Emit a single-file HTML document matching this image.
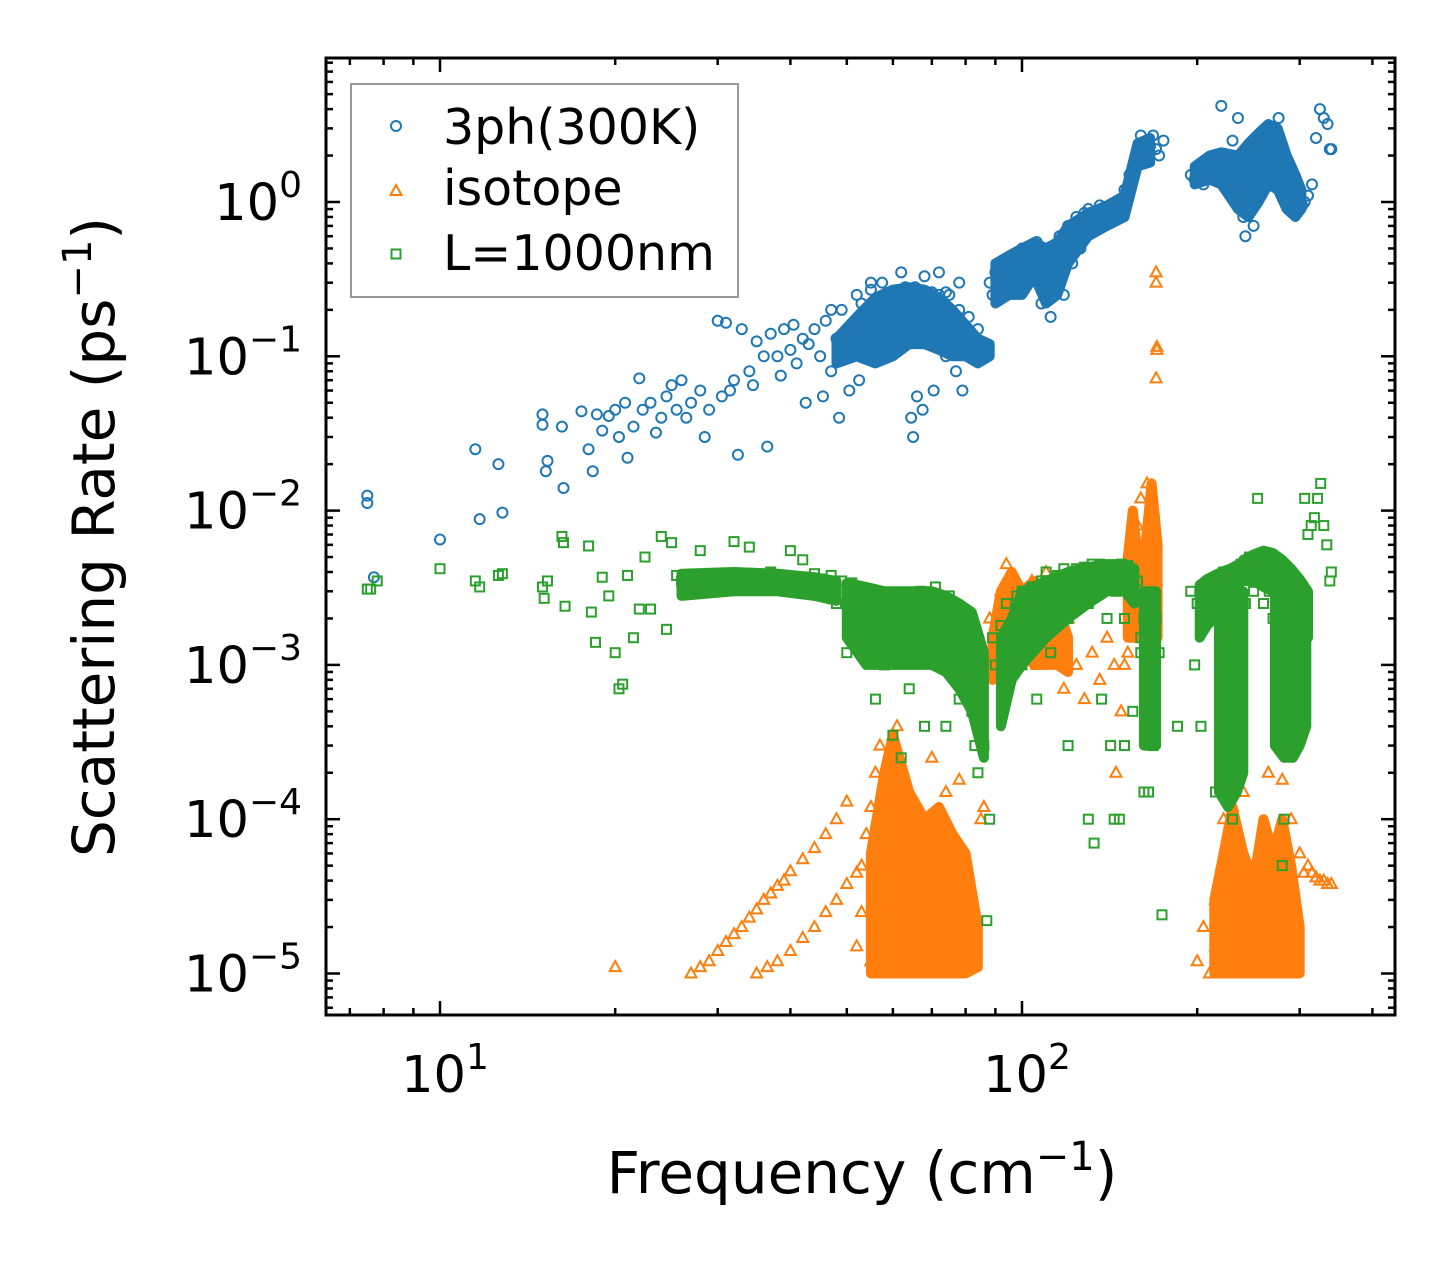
<!DOCTYPE html>
<html><head><meta charset="utf-8"><style>
html,body{margin:0;padding:0;background:#fff;}
svg{display:block;font-family:"DejaVu Sans","Liberation Sans",sans-serif;}
</style></head><body>
<svg id="chart" width="1455" height="1265" viewBox="0 0 1455 1265" xmlns="http://www.w3.org/2000/svg">
<rect width="1455" height="1265" fill="#fff"/>
<g id="marks"></g>
<g id="axes"></g>
</svg>
<script>
// ---- data: 3-phonon (300K) scattering ----
const threePhFreq = [
7.5,7.5,7.7,10,11.5,11.7,12.6,12.8,15,15,
15.2,15.3,16.2,16.3,17.5,18,18.3,18.6,19,19.5,
20,20.3,20.8,21,21.5,22,22.3,23,23.5,24,
24.5,25,25.5,26,26.5,27,28,28.5,29,30,
30.5,31,31.5,32,32.5,33,34,34.5,35,36,
36.5,37,38,38.5,39,40,40.5,41,42,42.5,
43,44,45,45.5,46,47,48,48.5,49,50,
50.5,51,52,52.5,53,54,55,55.5,56,57,
57.5,58,59,59.5,60,61,62,62.5,63,64,
64.5,65,65.5,66,67,67.5,68,69,70,70.5,
71,72,73,74,75,76,77,78,79,80,
81,82,83,84,85,60,62,65,68,72,
88,89,90,92,94,96,98,100,102,104,
106,108,110,112,114,116,118,120,122,124,
126,128,130,133,136,140,143,146,150,153,
156,158,160,162,164,166,168,170,172,175,
195,198,200,205,210,215,220,225,230,235,
238,240,242,245,248,250,253,256,260,263,
266,270,273,276,280,283,286,290,295,300,
303,306,310,315,320,325,330,335,338,340,
47,53,58,63,66,69,74,78,55,60];
const threePhRate = [
0.0125,0.0112,0.0037,0.0065,0.025,0.0088,0.020,0.0097,0.042,0.036,
0.018,0.021,0.035,0.014,0.044,0.025,0.018,0.042,0.033,0.041,
0.045,0.030,0.050,0.022,0.035,0.072,0.045,0.050,0.032,0.040,
0.055,0.065,0.045,0.070,0.040,0.050,0.060,0.030,0.045,0.170,
0.055,0.165,0.060,0.070,0.023,0.150,0.080,0.065,0.125,0.100,
0.026,0.140,0.100,0.075,0.150,0.110,0.160,0.090,0.130,0.050,
0.120,0.150,0.100,0.055,0.170,0.080,0.130,0.040,0.200,0.150,
0.060,0.110,0.250,0.070,0.180,0.130,0.270,0.100,0.200,0.150,
0.300,0.220,0.170,0.120,0.260,0.200,0.350,0.150,0.250,0.190,
0.040,0.030,0.280,0.055,0.220,0.045,0.330,0.150,0.260,0.060,
0.200,0.350,0.170,0.100,0.250,0.150,0.080,0.200,0.060,0.130,
0.180,0.100,0.120,0.150,0.110,0.180,0.130,0.220,0.170,0.250,
0.300,0.250,0.350,0.400,0.280,0.450,0.350,0.500,0.300,0.400,
0.550,0.220,0.500,0.180,0.350,0.600,0.250,0.700,0.400,0.800,
0.500,0.850,0.900,0.700,0.950,0.850,0.900,1.000,1.200,1.500,
1.700,2.200,2.700,2.000,2.500,2.300,2.700,2.200,2.000,2.500,
1.500,1.400,1.600,1.300,1.700,2.000,4.200,1.500,2.500,3.500,
1.200,0.800,0.600,0.900,1.300,0.700,1.500,1.100,2.500,1.800,
2.800,3.000,1.500,3.500,2.200,1.200,1.800,1.300,1.000,1.200,
0.950,1.000,1.100,1.300,2.600,4.000,3.500,3.200,2.200,2.200,
0.200,0.220,0.180,0.280,0.240,0.200,0.260,0.300,0.300,0.140];
// dense overlap regions (envelopes of overlapping markers)
const threePhBandFreq = [[48,52,56,60,64,68,72,76,80,84,88],[90,95,100,105,110,115,120,130,140,150,158,166],[198,210,220,235,245,255,265,275,285,295,302]];
const threePhBandLow  = [[0.09,0.10,0.09,0.10,0.12,0.12,0.11,0.10,0.10,0.09,0.10],[0.22,0.25,0.25,0.33,0.22,0.25,0.40,0.60,0.70,0.80,1.70,1.8],[1.3,1.4,1.3,0.9,0.8,1.0,1.3,1.2,0.9,0.8,0.9]];
const threePhBandHigh = [[0.13,0.18,0.24,0.27,0.28,0.27,0.24,0.20,0.16,0.13,0.12],[0.40,0.45,0.50,0.55,0.50,0.55,0.70,0.85,0.95,1.10,2.4,2.6],[1.7,2.0,2.1,2.0,2.4,2.8,3.2,3.0,2.0,1.5,1.2]];

// ---- data: isotope scattering ----
const isoFreq = [
20,27,28,29,30,31,32,33,34,35,
36,37,38,39,40,42,44,46,48,50,
35,36.5,38,40,42,44,46,48,50,52,
53,54,55,56,57,58,59,60,61,62,
52,53,55,56,58,59,60,62,63,64,
65,66,67,68,69,70,71,72,73,74,
75,76,77,78,79,80,66,70,74,78,
63,67,71,75,79,57,61,65,69,73,
85,86,88,90,92,94,96,98,100,102,
104,106,108,110,112,115,118,120,124,128,
132,136,140,144,148,152,155,158,160,162,
164,170,170,170.5,170.5,170,168,150,155,145,
200,205,210,215,220,225,230,235,240,245,
250,255,260,265,270,275,280,285,290,295,
300,305,310,315,320,325,330,335,340,230,
215,225,235,245,255,265,275,285,295,222];
const isoRate = [
1.1e-5,1.0e-5,1.1e-5,1.2e-5,1.4e-5,1.6e-5,1.8e-5,2.0e-5,2.3e-5,2.6e-5,
3e-5,3.3e-5,3.7e-5,4e-5,4.6e-5,5.5e-5,6.5e-5,8e-5,1.0e-4,1.3e-4,
1.0e-5,1.1e-5,1.2e-5,1.4e-5,1.7e-5,2e-5,2.5e-5,3e-5,3.8e-5,4.5e-5,
5e-5,8e-5,1.2e-4,2e-4,3e-4,1.5e-4,2.5e-4,3.5e-4,4e-4,2e-4,
1.5e-5,2.5e-5,1.2e-5,3.5e-5,1.0e-5,6e-5,1.8e-5,1.0e-4,1.3e-5,7e-5,
1.1e-5,3e-5,1.5e-5,5e-5,1.2e-5,8e-5,2e-5,4e-5,1.1e-5,1.5e-4,
2.5e-5,1e-5,6e-5,1.5e-5,3e-5,1.2e-5,1.2e-4,2.5e-4,7e-5,1.8e-4,
3e-5,2e-5,5e-5,2e-5,6e-5,2e-5,8e-5,1.6e-5,2.5e-5,3.5e-5,
1e-4,1.2e-4,2e-3,1.5e-3,3e-3,4.5e-3,2e-3,1.2e-3,3e-3,1.5e-3,
3.5e-3,1e-3,2.5e-3,4e-3,1.5e-3,3e-3,7e-4,2e-3,1e-3,6e-4,
1.2e-3,8e-4,1.5e-3,1e-3,5e-4,1.2e-3,3e-3,8e-3,1.2e-2,6e-3,
1.5e-2,0.35,0.30,0.11,0.115,0.072,1e-2,1e-3,2e-3,2e-4,
1.2e-5,2e-5,1e-5,1.5e-5,4e-5,1.2e-5,8e-5,2.5e-5,1.5e-4,3e-5,
1e-5,5e-5,1.5e-5,2e-4,1.1e-5,6e-5,1.8e-4,2e-5,1e-4,1.2e-5,
6e-5,4.5e-5,5e-5,4.5e-5,4.2e-5,4e-5,4e-5,3.8e-5,3.8e-5,1.2e-4,
3e-5,2e-5,5e-5,1.2e-5,2.5e-5,1.1e-5,3e-5,5e-5,2e-5,1e-4];
const isoBandFreq = [[55,58,60,64,68,72,76,80,84],[89,92,96,100,105,110,115,120],[152,155,158],[163,167,171],[214,222,230,240,250,260,270,280,290,300]];
const isoBandLow  = [[1e-5,1e-5,1e-5,1e-5,1e-5,1e-5,1e-5,1e-5,1.1e-5],[8e-4,1e-3,1e-3,1.2e-3,1e-3,1e-3,1e-3,9e-4],[1.5e-3,1.5e-3,1.5e-3],[1.5e-3,1.5e-3,1.5e-3],[1e-5,1e-5,1e-5,1e-5,1e-5,1e-5,1e-5,1e-5,1e-5,1e-5]];
const isoBandHigh = [[6e-5,2e-4,3.5e-4,1.5e-4,1e-4,1.2e-4,8e-5,6e-5,2e-5],[1.5e-3,3e-3,4e-3,3e-3,3.5e-3,3e-3,2.5e-3,1.5e-3],[5e-3,1e-2,5e-3],[6e-3,1.5e-2,6e-3],[3e-5,6e-5,1.2e-4,6e-5,4e-5,1e-4,6e-5,1e-4,5e-5,2e-5]];

// ---- data: boundary scattering L=1000nm ----
const bdyFreq = [
7.5,7.6,7.8,10,11.5,11.7,12.6,12.8,15,15.1,
15.3,16.2,16.3,16.4,18,18.2,18.5,19,19.5,20,
20.3,20.6,21,21.5,22,22.5,23,24,24.5,25,
25.5,26,27,28,29,30,31,32,33,34,
35,36,37,38,39,40,41,42,43,44,
45,46,47,48,49,50,51,52,53,54,
55,56,57,58,59,60,61,62,63,64,
65,66,67,68,69,70,71,72,73,74,
75,76,77,78,79,80,81,82,83,84,
55,58,61,64,67,70,73,76,79,62,
86,87,88,89,90,92,94,96,98,100,
102,104,106,108,110,112,115,118,120,124,
128,132,136,140,144,148,150,152,155,158,
160,162,164,166,168,170,172,174,165,168,
195,198,200,203,206,210,214,218,222,226,
230,234,238,242,246,250,254,258,262,266,
270,274,278,282,286,290,294,298,302,306,
310,314,318,322,326,330,334,338,340,280,
110,115,120,125,130,135,140,145,150,100,
230,235,240,245,250,255,260,265,270,275,
130,133,137,142,147,155,160,162,185,215];
const bdyRate = [
3.1e-3,3.1e-3,3.5e-3,4.2e-3,3.5e-3,3.2e-3,3.8e-3,3.9e-3,3.2e-3,2.7e-3,
3.5e-3,6.8e-3,6.2e-3,2.4e-3,5.9e-3,2.2e-3,1.4e-3,3.7e-3,2.8e-3,1.2e-3,
7e-4,7.5e-4,3.8e-3,1.5e-3,2.3e-3,5e-3,2.3e-3,6.8e-3,1.7e-3,6.2e-3,
3.8e-3,3.5e-3,3.3e-3,5.5e-3,3.5e-3,3.2e-3,3.8e-3,6.3e-3,3.5e-3,5.8e-3,
3.7e-3,3.4e-3,4e-3,3.6e-3,3.8e-3,5.5e-3,3.5e-3,4.8e-3,3.3e-3,3.9e-3,
3.6e-3,3.2e-3,3.8e-3,2.5e-3,3.5e-3,1.2e-3,3.4e-3,2e-3,3.1e-3,1.5e-3,
2.8e-3,6e-4,2.2e-3,1e-3,2.8e-3,3.5e-4,2.5e-3,1.5e-3,2.8e-3,7e-4,
2.2e-3,1.2e-3,3e-3,4e-4,2.5e-3,1.8e-3,3.2e-3,1e-3,2.5e-3,4e-4,
2.8e-3,1.5e-3,2.2e-3,6e-4,1.8e-3,1.2e-3,8e-4,5e-4,3e-4,2e-4,
1.8e-3,2.5e-3,1.2e-3,2e-3,1.5e-3,2.5e-3,1.5e-3,2e-3,1e-3,2.5e-4,
3e-4,2.2e-5,1e-4,1.5e-3,1e-3,1.8e-3,2.5e-3,1.5e-3,2.8e-3,3e-3,
2e-3,3.2e-3,6e-4,3.5e-3,4e-3,1.2e-3,3.8e-3,4.2e-3,3e-4,4.2e-3,
4.3e-3,4.5e-3,4.5e-3,4.2e-3,1e-4,4.5e-3,3e-4,4.4e-3,4e-3,3.5e-3,
1.5e-3,2e-3,1e-3,5e-4,3e-4,2e-3,1.2e-3,2.4e-5,1.5e-4,4e-4,
3e-3,1e-3,2.5e-3,4e-4,3e-3,3.5e-3,2.8e-3,3.5e-3,4e-3,3e-4,
1e-4,3e-3,4.5e-3,2.5e-3,5e-3,3.5e-3,1.2e-2,4e-3,5e-3,3e-3,
4e-3,3.5e-3,2.5e-3,1e-4,3e-3,1.5e-3,8e-4,2e-3,1e-3,1.2e-2,
7e-3,8e-3,9e-3,1.2e-2,1.5e-2,8e-3,6e-3,3.5e-3,4e-3,5e-5,
2.5e-3,3e-3,2e-3,3.5e-3,2.5e-3,3.5e-3,2e-3,3e-3,2e-3,1e-3,
2e-3,3.5e-3,2.5e-3,3.8e-3,3e-3,4e-3,2.5e-3,4.5e-3,2e-3,3.5e-3,
1e-4,7e-5,6e-4,3e-4,1e-4,5e-4,1.2e-3,1.5e-4,4e-4,1.5e-4];
const bdyBandFreq = [[26,32,38,44,48],[50,54,58,62,66,70,74,78,82,86],[92,96,100,110,120,130,140,150,156],[162,166,170],[202,208,214,220,228,236],[218,226,234,240],[240,250,260,270,280,290,300,310],[272,282,292,300,308]];
const bdyBandLow  = [[2.8e-3,3.0e-3,3.0e-3,2.8e-3,2.6e-3],[1.5e-3,1e-3,1e-3,1e-3,1e-3,1e-3,9e-4,7e-4,5e-4,2.5e-4],[4e-4,8e-4,1e-3,1.5e-3,2e-3,2.5e-3,3e-3,3e-3,2.5e-3],[3e-4,3e-4,3e-4],[1.5e-3,1.8e-3,2e-3,2.2e-3,2.5e-3,2.8e-3],[1.5e-4,1.2e-4,1.5e-4,2e-4],[3.5e-3,3.5e-3,3.2e-3,3e-3,2.8e-3,2.5e-3,2e-3,1.5e-3],[3e-4,2.5e-4,2.5e-4,3e-4,4e-4]];
const bdyBandHigh = [[3.9e-3,4.0e-3,3.9e-3,3.7e-3,3.5e-3],[3.4e-3,3.2e-3,3e-3,3e-3,3e-3,3e-3,2.8e-3,2.5e-3,2.2e-3,1.2e-3],[1.5e-3,2e-3,3e-3,3.5e-3,4e-3,4.3e-3,4.5e-3,4.5e-3,4.2e-3],[3e-3,3e-3,3e-3],[3.3e-3,3.6e-3,3.8e-3,4e-3,4.2e-3,4.5e-3],[3e-3,3e-3,3e-3,3e-3],[4.8e-3,5.2e-3,5.5e-3,5.3e-3,4.8e-3,4.2e-3,3.6e-3,3e-3],[3e-3,3e-3,3e-3,3e-3,2.5e-3]];

const xTickValues = [10, 100];
const xTickExps = ["1", "2"];
const yTickValues = [1, 0.1, 0.01, 0.001, 1e-4, 1e-5];
const yTickExps = ["0", "\u22121", "\u22122", "\u22123", "\u22124", "\u22125"];

// ---- axis functions ----
const PL = 326, PR = 1395, PT = 58, PB = 1015;
const X10 = 440, XDEC = 582, Y1 = 202, YDEC = 154.3;
function xs(f){ return X10 + (Math.log10(f) - 1) * XDEC; }
function ys(r){ return Y1 - Math.log10(r) * YDEC; }
const NS = "http://www.w3.org/2000/svg";
function mk(tag, attrs, parent){
  const e = document.createElementNS(NS, tag);
  for (const k in attrs) e.setAttribute(k, attrs[k]);
  parent.appendChild(e); return e;
}
const marks = document.getElementById('marks');
const axes = document.getElementById('axes');
const clip = mk('clipPath', {id:'plotclip'}, mk('defs', {}, document.getElementById('chart')));
mk('rect', {x:PL, y:PT, width:PR-PL, height:PB-PT}, clip);
marks.setAttribute('clip-path', 'url(#plotclip)');

function marker(kind, cx, cy, color, parent){
  let e;
  if (kind === 'circle') e = mk('circle', {cx:cx, cy:cy, r:5, fill:'none', stroke:color, 'stroke-width':2}, parent);
  else if (kind === 'tri') e = mk('polygon', {points:`${cx},${cy-6} ${cx+5.5},${cy+4} ${cx-5.5},${cy+4}`, fill:'none', stroke:color, 'stroke-width':2}, parent);
  else e = mk('rect', {x:cx-4.5, y:cy-4.5, width:9, height:9, fill:'none', stroke:color, 'stroke-width':2}, parent);
  return e;
}
function drawBands(fr, lo, hi, color, parent){
  for (let b = 0; b < fr.length; b++){
    const pts = [];
    for (let i = 0; i < fr[b].length; i++) pts.push(xs(fr[b][i]).toFixed(1) + ',' + ys(hi[b][i]).toFixed(1));
    for (let i = fr[b].length - 1; i >= 0; i--) pts.push(xs(fr[b][i]).toFixed(1) + ',' + ys(lo[b][i]).toFixed(1));
    const p = mk('polygon', {points:pts.join(' '), fill:color, stroke:color, 'stroke-width':10, 'stroke-linejoin':'round'}, parent);
    
    
  }
}
function drawSeries(name){
  const g = mk('g', {}, marks);
  
  
  return g;
}
// 3ph
const gB = drawSeries('3ph-300k');
drawBands(threePhBandFreq, threePhBandLow, threePhBandHigh, '#1f77b4', gB);
for (let i = 0; i < threePhFreq.length; i++){
  const m = marker('circle', xs(threePhFreq[i]), ys(threePhRate[i]), '#1f77b4', gB);
  
  
}
// isotope
const gO = drawSeries('isotope');
drawBands(isoBandFreq, isoBandLow, isoBandHigh, '#ff7f0e', gO);
for (let i = 0; i < isoFreq.length; i++){
  const m = marker('tri', xs(isoFreq[i]), ys(isoRate[i]), '#ff7f0e', gO);
  
  
}
// boundary
const gG = drawSeries('l1000nm');
drawBands(bdyBandFreq, bdyBandLow, bdyBandHigh, '#2ca02c', gG);
for (let i = 0; i < bdyFreq.length; i++){
  const m = marker('sq', xs(bdyFreq[i]), ys(bdyRate[i]), '#2ca02c', gG);
  
  
}

// ---- axes frame and ticks ----
const frame = mk('rect', {x:PL, y:PT, width:PR-PL, height:PB-PT, fill:'none', stroke:'#000', 'stroke-width':3}, axes);


function tick(x1,y1,x2,y2){ mk('line', {x1:x1,y1:y1,x2:x2,y2:y2,stroke:'#000','stroke-width':2.5}, axes); }
for (let d = 0; d <= 2; d++){
  for (let m = 1; m <= 9; m++){
    const f = m * Math.pow(10, d);
    const x = xs(f);
    if (x < PL || x > PR) continue;
    const L = (m === 1) ? 14 : 7;
    tick(x, PB, x, PB - L); tick(x, PT, x, PT + L);
  }
}
for (let d = -6; d <= 1; d++){
  for (let m = 1; m <= 9; m++){
    const r = m * Math.pow(10, d);
    const y = ys(r);
    if (y < PT || y > PB) continue;
    const L = (m === 1) ? 14 : 7;
    tick(PL, y, PL + L, y); tick(PR, y, PR - L, y);
  }
}
for (let i = 0; i < xTickValues.length; i++){
  const x = xs(xTickValues[i]);
  const t = mk('text', {x:x+5, y:1092, 'font-size':51, 'text-anchor':'middle', fill:'#000'}, axes);
  
  
  t.textContent = '10';
  const s = mk('tspan', {dy:-23, 'font-size':36}, t); s.textContent = xTickExps[i];
}
for (let i = 0; i < yTickValues.length; i++){
  const y = ys(yTickValues[i]);
  const t = mk('text', {x:302, y:y+18, 'font-size':51, 'text-anchor':'end', fill:'#000'}, axes);
  
  
  t.textContent = '10';
  const s = mk('tspan', {dy:-23, 'font-size':36}, t); s.textContent = yTickExps[i];
}
</script>
<svg style="position:absolute;left:0;top:0" width="1455" height="1265">
<text x="862" y="1193" font-size="58" text-anchor="middle" font-family="DejaVu Sans, Liberation Sans, sans-serif">Frequency (cm<tspan dy="-23" font-size="40">−1</tspan><tspan dy="23">)</tspan></text>
<text transform="translate(114,537) rotate(-90)" font-size="58" text-anchor="middle" font-family="DejaVu Sans, Liberation Sans, sans-serif">Scattering Rate (ps<tspan dy="-23" font-size="40">−1</tspan><tspan dy="23">)</tspan></text>
<g>
<rect x="351" y="84" width="387" height="213" fill="#fff" fill-opacity="0.8" stroke="#999" stroke-width="2"/>
<g><circle cx="396" cy="126" r="5" fill="none" stroke="#1f77b4" stroke-width="2"/><text x="443" y="144" font-size="49" font-family="DejaVu Sans, Liberation Sans, sans-serif">3ph(300K)</text></g>
<g><polygon points="396,185 401.5,195 390.5,195" fill="none" stroke="#ff7f0e" stroke-width="2"/><text x="443" y="205" font-size="49" font-family="DejaVu Sans, Liberation Sans, sans-serif">isotope</text></g>
<g><rect x="391.5" y="249.5" width="9" height="9" fill="none" stroke="#2ca02c" stroke-width="2"/><text x="443" y="270" font-size="49" font-family="DejaVu Sans, Liberation Sans, sans-serif">L=1000nm</text></g>
</g>
</svg>
</body></html>
